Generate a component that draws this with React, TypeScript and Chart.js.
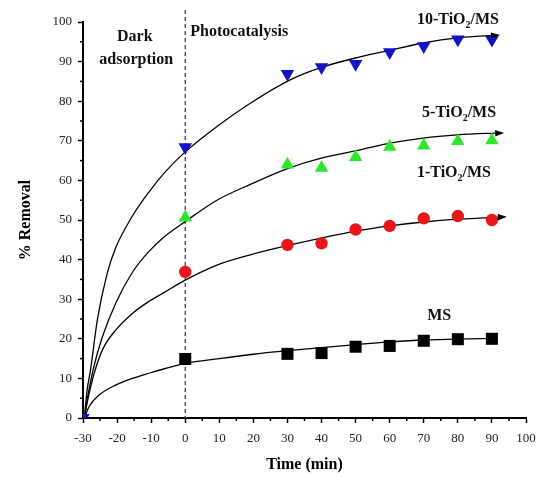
import React, { useEffect, useRef } from "react";
import { Chart, registerables } from "chart.js";

Chart.register(...registerables);

// ---------- data ----------
const markerTimes = [0, 30, 40, 50, 60, 70, 80, 90];
const tio10Values = [68.4, 86.9, 88.6, 89.4, 92.4, 93.9, 95.6, 95.5];
const tio5Values = [50.6, 64.0, 63.2, 65.9, 68.5, 68.8, 69.9, 70.1];
const tio1Values = [36.9, 43.7, 44.1, 47.6, 48.5, 50.4, 51.0, 50.0];
const msValues = [14.9, 16.2, 16.4, 18.0, 18.2, 19.5, 19.9, 20.0];
const originTime = [-30];
const originValue = [0];

// fitted curves
const fit10X = [-29.6, -28.8, -27.8, -25.8, -22.9, -20.4, -15.5, -10.7, -5.8, 0, 9.3, 19.1, 30.8, 40.2, 51.3, 60.1, 69.8, 79.8, 91.8];
const fit10Y = [0, 7, 12.1, 24.7, 36.5, 43, 51, 57, 62.2, 67.2, 73.6, 79.5, 85.4, 88.6, 91.2, 92.9, 94.7, 96, 96.7];
const fit5X = [-29.6, -28.7, -26.8, -24.3, -20.4, -15.5, -10.7, -5.8, 0, 9.3, 19.1, 30, 40.2, 51.3, 60.1, 69.8, 79.8, 93];
const fit5Y = [0, 5, 13, 20.5, 29, 36.8, 42, 46, 49.6, 55, 59, 63, 65.7, 67.7, 69.4, 70.7, 71.5, 72];
const fit1X = [-29.6, -28.7, -26.8, -24.3, -20.4, -15.5, -10.7, -5.8, 0, 9.3, 19.1, 30.8, 40.2, 50, 60, 70, 80, 93.8];
const fit1Y = [0, 4.2, 11, 17.2, 22.2, 26.4, 29.4, 31.9, 34.8, 38.6, 41.2, 43.7, 45.5, 47.2, 48.5, 49.5, 50.2, 50.8];
const fitMsX = [-29.6, -28.2, -25.3, -20.4, -15.5, -10.7, -5.8, 0, 10, 20, 30, 48.4, 60.1, 69.8, 79.8, 90.5];
const fitMsY = [0, 2.9, 5.8, 8.3, 10, 11.3, 12.5, 13.8, 15, 16.1, 17, 18.4, 19.2, 19.7, 19.9, 20.1];

const xMin = -30;
const xMax = 100;
const yMin = 0;
const yMax = 100;
const xStep = 10;
const yStep = 10;

const SERIF = "'Liberation Serif', 'Times New Roman', serif";

const pts = (xs: number[], ys: number[]) => xs.map((x, i) => ({ x, y: ys[i] }));

const overlayPlugin = {
  id: "overlay",
  beforeDatasetsDraw(chart: any) {
    const { ctx, scales, chartArea } = chart;
    const x0 = scales.x.getPixelForValue(0);
    ctx.save();
    ctx.strokeStyle = "#333";
    ctx.lineWidth = 1.2;
    ctx.setLineDash([4, 3]);
    ctx.beginPath();
    ctx.moveTo(x0, 10);
    ctx.lineTo(x0, chartArea.bottom);
    ctx.stroke();
    ctx.restore();
  },
  afterDatasetsDraw(chart: any) {
    const { ctx } = chart;
    chart.data.datasets.forEach((ds: any, i: number) => {
      if (!ds.arrow) return;
      const meta = chart.getDatasetMeta(i);
      const n = meta.data.length;
      const a = meta.data[n - 2];
      const b = meta.data[n - 1];
      const ang = Math.atan2(b.y - a.y, b.x - a.x);
      const L = 9;
      const W = 3.2;
      ctx.save();
      ctx.fillStyle = "#000";
      ctx.translate(b.x + 2, b.y);
      ctx.rotate(ang);
      ctx.beginPath();
      ctx.moveTo(0, 0);
      ctx.lineTo(-L, -W);
      ctx.lineTo(-L, W);
      ctx.closePath();
      ctx.fill();
      ctx.restore();
    });
  },
  afterDraw(chart: any) {
    const { ctx, scales, chartArea } = chart;
    const xs = scales.x;
    const ys = scales.y;
    ctx.save();
    // minor ticks
    ctx.strokeStyle = "#000";
    ctx.lineWidth = 1.5;
    for (let v = yMin + yStep / 2; v < yMax; v += yStep) {
      const py = ys.getPixelForValue(v);
      ctx.beginPath();
      ctx.moveTo(chartArea.left - 3, py);
      ctx.lineTo(chartArea.left, py);
      ctx.stroke();
    }
    for (let v = xMin + xStep / 2; v < xMax; v += xStep) {
      const px = xs.getPixelForValue(v);
      ctx.beginPath();
      ctx.moveTo(px, chartArea.bottom);
      ctx.lineTo(px, chartArea.bottom + 3);
      ctx.stroke();
    }
    // annotations
    ctx.fillStyle = "#111";
    ctx.textBaseline = "alphabetic";
    const big = `bold 16px ${SERIF}`;
    const small = `bold 10px ${SERIF}`;
    ctx.font = big;
    ctx.textAlign = "center";
    ctx.fillText("Dark", xs.getPixelForValue(-14.8), ys.getPixelForValue(95.2));
    ctx.fillText("adsorption", xs.getPixelForValue(-14.4), ys.getPixelForValue(89.4));
    ctx.textAlign = "left";
    ctx.fillText("Photocatalysis", xs.getPixelForValue(1.5), ys.getPixelForValue(96.5));
    const drawLabel = (parts: [string, boolean][], xv: number, yv: number) => {
      let cx = xs.getPixelForValue(xv);
      const by = ys.getPixelForValue(yv);
      for (const [t, sub] of parts) {
        ctx.font = sub ? small : big;
        ctx.fillText(t, cx, sub ? by + 4 : by);
        cx += ctx.measureText(t).width;
      }
    };
    drawLabel([["10-TiO", false], ["2", true], ["/MS", false]], 68.0, 99.5);
    drawLabel([["5-TiO", false], ["2", true], ["/MS", false]], 69.5, 76.0);
    drawLabel([["1-TiO", false], ["2", true], ["/MS", false]], 68.0, 60.9);
    drawLabel([["MS", false]], 71.0, 24.7);
    ctx.restore();
  },
};

export default function App() {
  const ref = useRef<HTMLCanvasElement | null>(null);
  useEffect(() => {
    if (!ref.current) return;
    const curve = (xs: number[], ys: number[], arrow: boolean) => ({
      type: "line",
      data: pts(xs, ys),
      borderColor: "#000",
      borderWidth: 1.3,
      pointRadius: 0,
      fill: false,
      cubicInterpolationMode: "monotone",
      order: 2,
      arrow,
    });
    const marker = (ys: number[], style: string, rot: number, r: number, color: string, xs = markerTimes) => ({
      type: "scatter",
      data: pts(xs, ys),
      pointStyle: style,
      rotation: rot,
      pointRadius: r,
      backgroundColor: color,
      borderColor: color,
      borderWidth: 0,
      showLine: false,
      order: 1,
    });
    const chart = new Chart(ref.current, {
      type: "scatter",
      data: {
        datasets: [
          curve(fitMsX, fitMsY, false),
          curve(fit1X, fit1Y, true),
          curve(fit5X, fit5Y, true),
          curve(fit10X, fit10Y, true),
          marker(msValues, "rect", 0, 8.5, "#000"),
          marker(tio1Values, "circle", 0, 6.2, "#e8161b"),
          marker(tio5Values, "triangle", 0, 7.8, "#2ee62e"),
          marker(tio10Values, "triangle", 180, 7.8, "#1212c8"),
          marker(originValue, "triangle", 180, 7.8, "#1212c8", originTime),
        ] as any,
      },
      options: {
        animation: false,
        responsive: false,
        layout: { padding: { left: 0, right: 13, top: 22, bottom: 0 } },
        plugins: { legend: { display: false }, tooltip: { enabled: false } },
        scales: {
          x: {
            type: "linear",
            min: xMin,
            max: xMax,
            afterFit: (s: any) => {
              s.height = 59;
              s.paddingLeft = 0;
              s.paddingRight = 0;
            },
            ticks: {
              stepSize: xStep,
              color: "#222",
              padding: 8,
              maxRotation: 0,
              font: { family: SERIF, size: 13 },
            },
            grid: { drawOnChartArea: false, tickLength: 5, tickColor: "#000", tickWidth: 1.5 },
            border: { display: true, color: "#000", width: 2 },
            title: {
              display: true,
              text: "Time (min)",
              color: "#000",
              font: { family: SERIF, size: 16, weight: "bold" },
              padding: { top: 0, bottom: 3 },
            },
          },
          y: {
            type: "linear",
            min: yMin,
            max: yMax,
            afterFit: (s: any) => {
              s.width = 83;
              s.paddingTop = 0;
              s.paddingBottom = 0;
            },
            ticks: {
              stepSize: yStep,
              color: "#222",
              padding: 6,
              font: { family: SERIF, size: 13 },
            },
            grid: { drawOnChartArea: false, tickLength: 5, tickColor: "#000", tickWidth: 1.5 },
            border: { display: true, color: "#000", width: 2 },
            title: {
              display: true,
              text: "% Removal",
              color: "#000",
              font: { family: SERIF, size: 16, weight: "bold" },
              padding: { top: 16, bottom: 0 },
            },
          },
        },
      } as any,
      plugins: [overlayPlugin],
    });
    return () => chart.destroy();
  }, []);
  return (
    <div style={{ position: "fixed", left: 0, top: 0, width: 539, height: 477, background: "#fff" }}>
      <canvas ref={ref} width={539} height={477} style={{ display: "block" }} />
    </div>
  );
}
